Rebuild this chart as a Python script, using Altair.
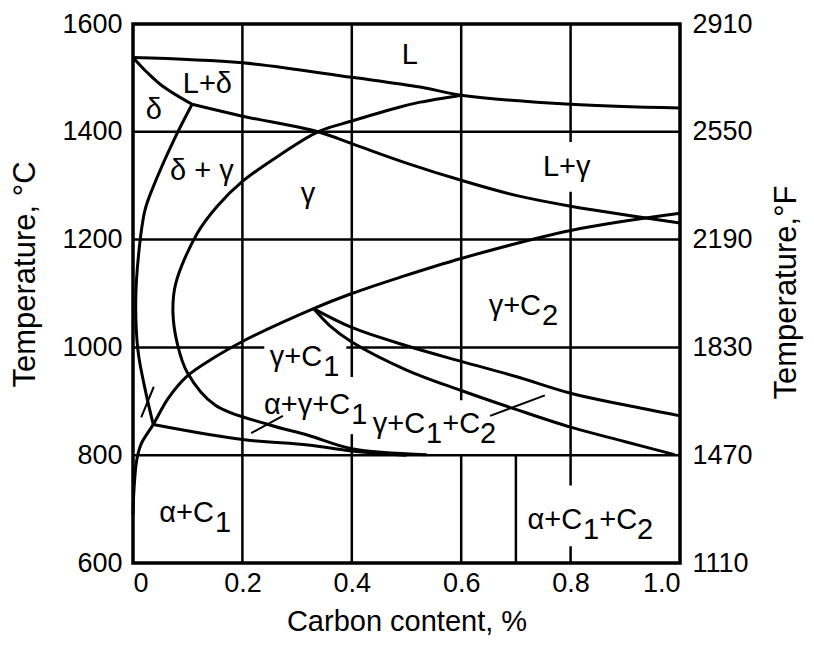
import altair as alt
import pandas as pd

# ---------------- axis values ----------------
x_ticks = [0, 0.2, 0.4, 0.6, 0.8, 1.0]
y_ticks = [600, 800, 1000, 1200, 1400, 1600]
f_labels = ["1110", "1470", "1830", "2190", "2550", "2910"]

# ---------------- phase boundary curves (carbon %, temperature C) ----------------
liquidus_c = [0, 0.2, 0.4, 0.525, 0.6, 0.8, 1.0]
liquidus_T = [1538, 1528, 1501, 1483, 1468, 1451, 1444]

delta_sol_c = [0, 0.026, 0.055, 0.108]
delta_sol_T = [1538, 1510, 1484, 1451]

gamma_sol_c = [0.108, 0.2, 0.338, 0.4, 0.5, 0.6, 0.7, 0.8, 1.0]
gamma_sol_T = [1451, 1429, 1400, 1378, 1342, 1310, 1282, 1262, 1231]

c_curve_c = [0.6, 0.525, 0.488, 0.4, 0.338, 0.27, 0.2, 0.154, 0.117, 0.078, 0.073,
             0.081, 0.099, 0.15, 0.247, 0.32, 0.4, 0.537]
c_curve_T = [1468, 1455, 1446, 1420, 1400, 1358, 1308, 1262, 1211, 1118, 1065,
             1007, 954, 893, 857, 837, 812, 801]

alpha_c = [0.108, 0.073, 0.037, 0.022, 0.011, 0.005, 0.009, 0.022, 0.037]
alpha_T = [1451, 1381, 1298, 1255, 1180, 1087, 995, 923, 857]

solvus_c = [0, 0.002, 0.007, 0.015, 0.037, 0.064, 0.097, 0.15, 0.2, 0.33,
            0.4, 0.488, 0.6, 0.8, 1.0]
solvus_T = [690, 740, 792, 821, 857, 905, 945, 982, 1011, 1072,
            1100, 1130, 1165, 1217, 1249]

upper_c = [0.33, 0.4, 0.5, 0.6, 0.7, 0.8, 0.9, 1.0]
upper_T = [1072, 1037, 1003, 974, 946, 915, 893, 873]

lower_c = [0.33, 0.36, 0.4, 0.5, 0.6, 0.7, 0.8, 0.9, 0.99]
lower_T = [1072, 1040, 1010, 958, 920, 885, 852, 825, 801]

eutectoid_c = [0.037, 0.2, 0.32, 0.4, 0.5]
eutectoid_T = [857, 829, 819, 808, 800]

curves = {
    "liquidus": (liquidus_c, liquidus_T),
    "delta_sol": (delta_sol_c, delta_sol_T),
    "gamma_sol": (gamma_sol_c, gamma_sol_T),
    "c_curve": (c_curve_c, c_curve_T),
    "alpha": (alpha_c, alpha_T),
    "solvus": (solvus_c, solvus_T),
    "upper": (upper_c, upper_T),
    "lower": (lower_c, lower_T),
    "eutectoid": (eutectoid_c, eutectoid_T),
}
rows = []
for name, (cs, ts) in curves.items():
    for i, (c, t) in enumerate(zip(cs, ts)):
        rows.append({"curve": name, "i": i, "c": c, "T": t})
curve_df = pd.DataFrame(rows)

# ---------------- grid segments ----------------
vgrid_c = [0.2, 0.4, 0.4, 0.6, 0.6, 0.7, 0.8, 0.8, 0.8]
vgrid_T1 = [600, 945, 600, 902, 600, 600, 1381, 744, 600]
vgrid_T2 = [1600, 1600, 839, 1600, 800, 800, 1600, 1289, 631]
vgrid_df = pd.DataFrame({"c": vgrid_c, "T": vgrid_T1, "T2": vgrid_T2})

hgrid_T = [1400, 1200, 1000, 1000, 800]
hgrid_c1 = [0, 0, 0, 0.39, 0]
hgrid_c2 = [1, 1, 0.24, 1, 1]
hgrid_df = pd.DataFrame({"c": hgrid_c1, "c2": hgrid_c2, "T": hgrid_T})

# ---------------- leader lines ----------------
leader_c1 = [0.015, 0.216, 0.653]
leader_T1 = [870, 841, 873]
leader_c2 = [0.038, 0.274, 0.753]
leader_T2 = [927, 873, 911]
leader_df = pd.DataFrame({"c": leader_c1, "T": leader_T1,
                          "c2": leader_c2, "T2": leader_T2})

# ---------------- region labels ----------------
# kind: center = plain label, right = main text ending at anchor,
# sub = subscript after anchor, plus = "+C" after the subscript, sub2 = second subscript
label_text = ["L", "L+δ", "δ", "δ + γ", "γ", "L+γ",
              "γ+C", "2",
              "γ+C", "1",
              "α+γ+C", "1",
              "γ+C", "1", "+C", "2",
              "α+C", "1",
              "α+C", "1", "+C", "2"]
label_kind = ["center", "center", "center", "center", "center", "center",
              "right", "sub",
              "right", "sub",
              "right", "sub",
              "right", "sub", "plus", "sub2",
              "right", "sub",
              "right", "sub", "plus", "sub2"]
label_c = [0.506, 0.136, 0.038, 0.126, 0.32, 0.793,
           0.746, 0.746,
           0.346, 0.346,
           0.397, 0.397,
           0.534, 0.534, 0.534, 0.534,
           0.148, 0.148,
           0.821, 0.821, 0.821, 0.821]
label_T = [1543, 1488, 1440, 1328, 1285, 1334,
           1076, 1076,
           982, 982,
           893, 893,
           857, 857, 857, 857,
           692, 692,
           679, 679, 679, 679]
label_df = pd.DataFrame({"text": label_text, "kind": label_kind,
                         "c": label_c, "T": label_T})

FONT = "Liberation Sans"
LBL = 29

xscale = alt.Scale(domain=[0, 1], nice=False, zero=False)
yscale = alt.Scale(domain=[600, 1600], nice=False, zero=False)

x_axis = alt.Axis(values=x_ticks, title="Carbon content, %",
                  labelExpr="datum.value == 0 ? '0' : format(datum.value, '.1f')",
                  labelPadding=7, titleY=67, titleBaseline="alphabetic",
                  titleFontSize=29)
y_axis = alt.Axis(values=y_ticks, title="Temperature, °C", format="d",
                  labelPadding=11, titleX=-99, titleY=250,
                  titleBaseline="alphabetic", titleAngle=270, titleFontSize=31)

fexpr = " : ".join(f"datum.value == {v} ? '{f}'" for v, f in zip(y_ticks, f_labels)) + " : ''"
y_axis_r = alt.Axis(values=y_ticks, title="Temperature,°F", orient="right",
                    labelExpr=fexpr, labelPadding=12, titleX=115, titleY=268,
                    titleBaseline="alphabetic", titleAngle=270, titleFontSize=31)

X = alt.X("c:Q", scale=xscale, axis=x_axis)
Y = alt.Y("T:Q", scale=yscale, axis=y_axis)

vgrid = alt.Chart(vgrid_df).mark_rule(color="black", strokeWidth=2.5).encode(
    x=X, y=Y, y2="T2:Q")
hgrid = alt.Chart(hgrid_df).mark_rule(color="black", strokeWidth=2.5).encode(
    x=X, x2="c2:Q", y=Y)
lines = alt.Chart(curve_df).mark_line(color="black", strokeWidth=3,
                                      interpolate="catmull-rom").encode(
    x=X, y=Y, detail="curve:N", order="i:Q")
leaders = alt.Chart(leader_df).mark_rule(color="black", strokeWidth=2).encode(
    x=X, y=Y, x2="c2:Q", y2="T2:Q")

W1 = 0.556 * LBL            # width of a subscript digit
WPC = (0.584 + 0.722) * LBL  # width of "+C"


def text_layer(kind, align, dx, dy):
    return alt.Chart(label_df).transform_filter(
        alt.datum.kind == kind
    ).mark_text(font=FONT, fontSize=LBL, align=align, baseline="middle",
                dx=dx, dy=dy, color="black").encode(x=X, y=Y, text="text:N")


labels = (text_layer("center", "center", 0, 0)
          + text_layer("right", "right", 0, 0)
          + text_layer("sub", "left", 1, 10)
          + text_layer("plus", "left", 1 + W1, 0)
          + text_layer("sub2", "left", 1 + W1 + WPC, 10))

left = alt.layer(vgrid, hgrid, lines, leaders, labels)

right = alt.Chart(pd.DataFrame({"T": y_ticks})).mark_rule(opacity=0).encode(
    y=alt.Y("T:Q", scale=yscale, axis=y_axis_r))

chart = alt.layer(left, right).resolve_scale(y="independent").properties(
    width=547, height=539,
    padding={"left": 125, "top": 16, "right": 126, "bottom": 75},
    autosize=alt.AutoSizeParams(type="none"),
).configure_view(stroke="black", strokeWidth=3.5).configure_axis(
    ticks=False, domain=False, grid=False,
    labelFont=FONT, labelFontSize=27, labelColor="black",
    titleFont=FONT, titleColor="black", titleFontWeight="normal",
)

chart.save("out.html", embed_options={"renderer": "svg", "actions": False})
